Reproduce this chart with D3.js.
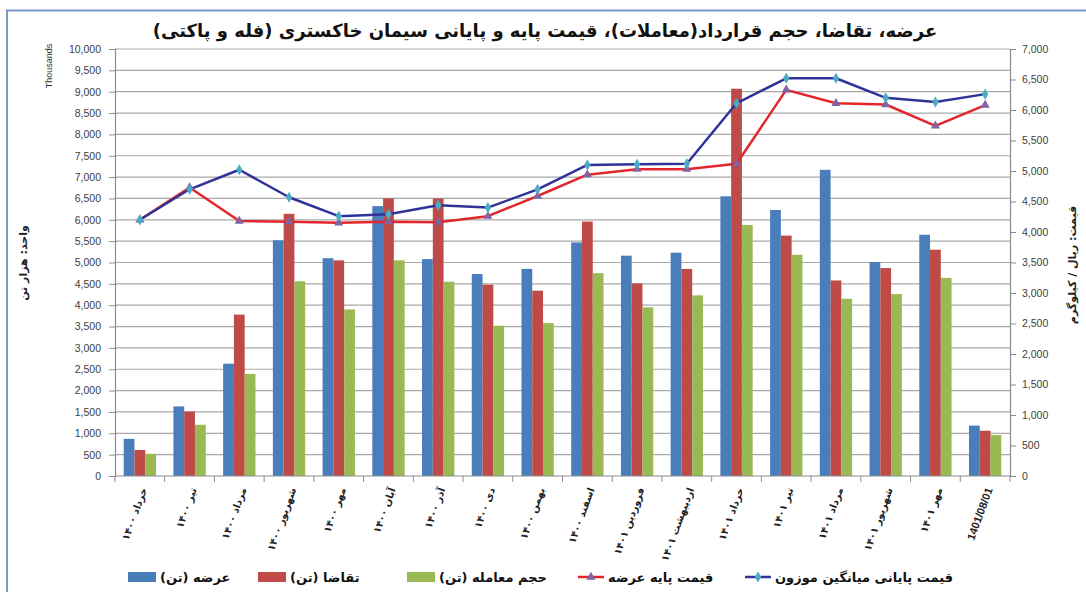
<!DOCTYPE html>
<html lang="fa">
  <head>
    <meta charset="UTF-8" />
    <title>عرضه و تقاضای سیمان</title>
    <style>
      body { margin: 0; background: #fff; }
      text { font-family: "DejaVu Sans", "Liberation Sans", sans-serif; }
    </style>
  </head>
  <body>
    <svg id="svg" width="1086" height="592"></svg>

    <script src="https://cdn.jsdelivr.net/npm/d3@7"></script>
    <script>
      const RLM = "\u200F";

      const categories = [
        "خرداد ۱۴۰۰", "تیر ۱۴۰۰", "مرداد ۱۴۰۰", "شهریور ۱۴۰۰", "مهر ۱۴۰۰",
        "آبان ۱۴۰۰", "آذر ۱۴۰۰", "دی ۱۴۰۰", "بهمن ۱۴۰۰", "اسفند ۱۴۰۰",
        "فروردین ۱۴۰۱", "اردیبهشت ۱۴۰۱", "خرداد ۱۴۰۱", "تیر ۱۴۰۱", "مرداد ۱۴۰۱",
        "شهریور ۱۴۰۱", "مهر ۱۴۰۱", "1401/08/01",
      ];

      // thousand tonnes (left axis)
      const supply = [870, 1630, 2630, 5520, 5100, 6320, 5080, 4730, 4850, 5470, 5160, 5230, 6550, 6230, 7170, 5010, 5650, 1180];
      const demand = [610, 1510, 3780, 6140, 5050, 6500, 6500, 4480, 4340, 5960, 4510, 4850, 9070, 5630, 4580, 4870, 5300, 1060];
      const traded = [520, 1200, 2390, 4560, 3900, 5050, 4550, 3520, 3580, 4750, 3950, 4230, 5880, 5180, 4150, 4260, 4640, 960];

      // rial / kg (right axis)
      const basePrice = [4200, 4730, 4180, 4170, 4150, 4170, 4160, 4260, 4590, 4940, 5030, 5030, 5120, 6330, 6110, 6090, 5740, 6080];
      const finalPrice = [4200, 4700, 5020, 4570, 4260, 4290, 4440, 4400, 4700, 5100, 5110, 5120, 6110, 6520, 6520, 6200, 6130, 6260];

      const barNames = ["عرضه (تن)", "تقاضا (تن)", "حجم معامله (تن)"];
      const lineNames = ["قیمت پایه عرضه", "قیمت پایانی میانگین موزون"];
      const leftTicks = d3.range(0, 10001, 500);
      const rightTicks = d3.range(0, 7001, 500);

      const title = "عرضه، تقاضا، حجم قرارداد(معاملات)، قیمت پایه و پایانی سیمان خاکستری (فله و پاکتی)";
      const leftTitle = "واحد: هزار تن";
      const rightTitle = "قیمت: ریال / کیلوگرم";

      const barColors = ["#4a7ebb", "#be4b48", "#98b954"];
      const lineColors = ["#e3262b", "#2f3399"];
      const markerColors = ["#8064a2", "#4bacc6"];

      const L = 115, R = 1010, T = 49, B = 476;
      const svg = d3.select("#svg");

      // outer frame
      svg.append("rect")
        .attr("x", 7).attr("y", 10.5)
        .attr("width", 1100).attr("height", 600)
        .attr("fill", "none")
        .attr("stroke", "#7d98c6")
        .attr("stroke-width", 2);

      const x = d3.scaleBand()
        .domain(categories)
        .range([L, R])
        .paddingInner(0.35)
        .paddingOuter(0.175);
      const xSub = d3.scaleBand().domain([0, 1, 2]).range([0, x.bandwidth()]);
      const yL = d3.scaleLinear().domain([0, 10000]).range([B, T]);
      const yR = d3.scaleLinear().domain([0, 7000]).range([B, T]);
      const fmt = d3.format(",");

      // gridlines
      svg.append("g")
        .selectAll("line")
        .data(leftTicks.slice(1))
        .enter()
        .append("line")
        .attr("x1", L).attr("x2", R)
        .attr("y1", (d) => yL(d)).attr("y2", (d) => yL(d))
        .attr("stroke", "#a9a9a9")
        .attr("stroke-width", 1.2);

      // left axis
      const gL = svg.append("g").attr("transform", `translate(${L},0)`)
        .call(d3.axisLeft(yL).tickValues(leftTicks).tickFormat(fmt).tickSize(6).tickPadding(8));
      // right axis
      const gR = svg.append("g").attr("transform", `translate(${R},0)`)
        .call(d3.axisRight(yR).tickValues(rightTicks).tickFormat(fmt).tickSize(6).tickPadding(6));
      [gL, gR].forEach((g) => {
        g.select(".domain").attr("stroke", "#8c8c8c").attr("stroke-width", 1.2);
        g.selectAll(".tick line").attr("stroke", "#8c8c8c");
        g.selectAll(".tick text")
          .attr("fill", "#404040")
          .style("font-family", "'Liberation Sans', sans-serif")
          .style("font-size", "10.5px");
      });

      // bars
      const series = [supply, demand, traded];
      series.forEach((vals, si) => {
        svg.append("g")
          .selectAll("rect")
          .data(vals)
          .enter()
          .append("rect")
          .attr("x", (d, i) => x(categories[i]) + xSub(si))
          .attr("width", xSub.bandwidth())
          .attr("y", (d) => yL(d))
          .attr("height", (d) => B - yL(d))
          .attr("fill", barColors[si]);
      });

      // x axis
      svg.append("line")
        .attr("x1", L).attr("x2", R).attr("y1", B).attr("y2", B)
        .attr("stroke", "#8c8c8c").attr("stroke-width", 1.2);
      const step = x.step();
      svg.append("g")
        .selectAll("line")
        .data(d3.range(categories.length + 1))
        .enter()
        .append("line")
        .attr("x1", (i) => L + i * step).attr("x2", (i) => L + i * step)
        .attr("y1", B).attr("y2", B + 6)
        .attr("stroke", "#8c8c8c");

      svg.append("g")
        .selectAll("text")
        .data(categories)
        .enter()
        .append("text")
        .attr("transform", (d) => `translate(${x(d) + x.bandwidth() / 2 + 4},${B + 12}) rotate(-70)`)
        .attr("text-anchor", "end")
        .attr("dy", "0.35em")
        .attr("fill", "#222")
        .style("font-size", (d) => (d.startsWith("1401/") ? "11px" : "10px"))
        .style("font-weight", "bold")
        .style("font-family", (d) => (d.startsWith("1401/") ? "'Liberation Sans', sans-serif" : null))
        .text((d) => d + RLM);

      // price lines
      const linesData = [basePrice, finalPrice];
      const cx = (i) => x(categories[i]) + x.bandwidth() / 2;
      const symbols = [d3.symbolTriangle, d3.symbolDiamond];
      linesData.forEach((vals, li) => {
        const line = d3.line().x((d, i) => cx(i)).y((d) => yR(d));
        svg.append("path")
          .datum(vals)
          .attr("d", line)
          .attr("fill", "none")
          .attr("stroke", lineColors[li])
          .attr("stroke-width", 2.5)
          .attr("stroke-linejoin", "round");
      });
      linesData.forEach((vals, li) => {
        svg.append("g")
          .selectAll("path")
          .data(vals)
          .enter()
          .append("path")
          .attr("d", d3.symbol().type(symbols[li]).size(36))
          .attr("transform", (d, i) => `translate(${cx(i)},${yR(d)})`)
          .attr("fill", markerColors[li]);
      });

      // titles
      svg.append("text")
        .attr("x", 545).attr("y", 37)
        .attr("text-anchor", "middle")
        .style("font-size", "18px")
        .style("font-weight", "bold")
        .attr("fill", "#111")
        .text(title + RLM);

      svg.append("text")
        .attr("transform", "translate(27,263) rotate(-90)")
        .attr("text-anchor", "middle")
        .style("font-size", "11px")
        .style("font-weight", "bold")
        .attr("fill", "#222")
        .text(leftTitle + RLM);

      svg.append("text")
        .attr("transform", "translate(52,66) rotate(-90)")
        .attr("text-anchor", "middle")
        .style("font-size", "9px")
        .style("font-family", "'Liberation Sans', sans-serif")
        .attr("fill", "#333")
        .text("Thousands");

      svg.append("text")
        .attr("transform", "translate(1076,265) rotate(-90)")
        .attr("text-anchor", "middle")
        .style("font-size", "11px")
        .style("font-weight", "bold")
        .attr("fill", "#222")
        .text(rightTitle + RLM);

      // legend
      const legY = 577;
      const barLegX = [128, 258, 407];
      barNames.forEach((name, i) => {
        svg.append("rect")
          .attr("x", barLegX[i]).attr("y", legY - 5)
          .attr("width", 28).attr("height", 10)
          .attr("fill", barColors[i]);
        svg.append("text")
          .attr("x", barLegX[i] + 32).attr("y", legY)
          .attr("dy", "0.35em")
          .style("font-size", "13px")
          .style("font-weight", "bold")
          .attr("fill", "#111")
          .text(name + RLM);
      });
      const lineLegX = [578, 745];
      lineNames.forEach((name, i) => {
        svg.append("line")
          .attr("x1", lineLegX[i]).attr("x2", lineLegX[i] + 26)
          .attr("y1", legY).attr("y2", legY)
          .attr("stroke", lineColors[i]).attr("stroke-width", 2.5);
        svg.append("path")
          .attr("d", d3.symbol().type(symbols[i]).size(36))
          .attr("transform", `translate(${lineLegX[i] + 13},${legY})`)
          .attr("fill", markerColors[i]);
        svg.append("text")
          .attr("x", lineLegX[i] + 30).attr("y", legY)
          .attr("dy", "0.35em")
          .style("font-size", "13px")
          .style("font-weight", "bold")
          .attr("fill", "#111")
          .text(name + RLM);
      });
    </script>
  </body>
</html>
